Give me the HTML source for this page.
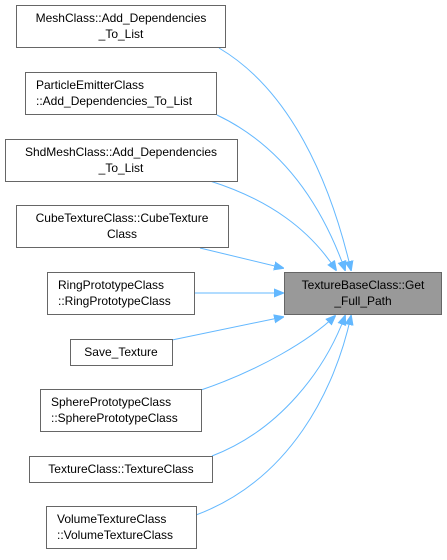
<!DOCTYPE html>
<html><head><style>
body{margin:0;background:#fff}
svg text{font-family:"Liberation Sans",Arial,sans-serif;font-size:12px;fill:#000}
</style></head><body>
<svg width="447" height="555" viewBox="0 0 447 555" xmlns="http://www.w3.org/2000/svg">
<defs><marker id="a" markerWidth="10" markerHeight="10" refX="9" refY="5" orient="auto" markerUnits="userSpaceOnUse"><path d="M0,1 L10,5 L0,9 Z" fill="#63b8ff" stroke="#63b8ff"/></marker></defs>
<g fill="none" stroke="#63b8ff" stroke-width="1" marker-end="url(#a)">
<path d="M219,48 C290,90 330,180 351,270"/>
<path d="M217,115 C280,145 320,200 345,270"/>
<path d="M210,181 C270,200 310,230 336,270"/>
<path d="M200,248 L283,268"/>
<path d="M194,293 L283,293"/>
<path d="M172,340 L283,317"/>
<path d="M201,390 C260,370 310,340 335,316"/>
<path d="M212,456 C280,430 325,370 345,316"/>
<path d="M196,515 C290,480 335,390 351,316"/>
</g>
<g stroke="#666" fill="#fff">
<rect x="16.5" y="5.5" width="209" height="42"/>
<rect x="25.5" y="72.5" width="191" height="42"/>
<rect x="5.5" y="139.5" width="232" height="42"/>
<rect x="16.5" y="205.5" width="212" height="42"/>
<rect x="47.5" y="272.5" width="147" height="42"/>
<rect x="70.5" y="339.5" width="102" height="26"/>
<rect x="40.5" y="389.5" width="161" height="42"/>
<rect x="29.5" y="456.5" width="183" height="26"/>
<rect x="46.5" y="506.5" width="150" height="42"/>
<rect x="284.5" y="272.5" width="157" height="42" fill="#999"/>
</g>
<g text-anchor="middle">
<text x="121" y="22">MeshClass::Add_Dependencies</text><text x="121" y="38">_To_List</text>
<text x="121" y="89" text-anchor="start" x2="0"></text>
<text x="36" y="89" text-anchor="start">ParticleEmitterClass</text><text x="36" y="105" text-anchor="start">::Add_Dependencies_To_List</text>
<text x="121" y="156">ShdMeshClass::Add_Dependencies</text><text x="121" y="172">_To_List</text>
<text x="122" y="222">CubeTextureClass::CubeTexture</text><text x="122" y="238">Class</text>
<text x="58" y="289" text-anchor="start">RingPrototypeClass</text><text x="58" y="305" text-anchor="start">::RingPrototypeClass</text>
<text x="121" y="356">Save_Texture</text>
<text x="51" y="406" text-anchor="start">SpherePrototypeClass</text><text x="51" y="422" text-anchor="start">::SpherePrototypeClass</text>
<text x="121" y="473">TextureClass::TextureClass</text>
<text x="57" y="523" text-anchor="start">VolumeTextureClass</text><text x="57" y="539" text-anchor="start">::VolumeTextureClass</text>
<text x="363" y="289">TextureBaseClass::Get</text><text x="363" y="305">_Full_Path</text>
</g>
</svg>
</body></html>
